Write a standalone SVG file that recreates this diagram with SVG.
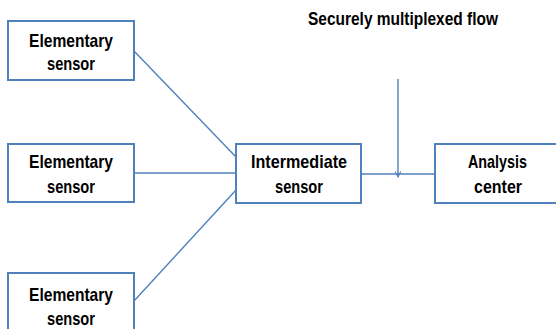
<svg xmlns="http://www.w3.org/2000/svg" width="556" height="329" viewBox="0 0 556 329">
  <defs>
    <marker id="arrow" viewBox="0 0 10 10" refX="9" refY="5" markerWidth="7" markerHeight="7" orient="auto" markerUnits="userSpaceOnUse">
      <path d="M1,1 L9,5 L1,9" fill="none" stroke="#4f81bd" stroke-width="1.5"/>
    </marker>
    <style>
      .box { fill: #ffffff; stroke: #4f81bd; stroke-width: 2; }
      .link { fill: none; stroke: #4f81bd; stroke-width: 1.4; }
      .lbl { font-family: "Liberation Sans", Arial, sans-serif; font-weight: bold; font-size: 19px; fill: #000000; text-anchor: middle; }
    </style>
  </defs>
  <rect width="556" height="329" fill="#ffffff"/>

  <g id="connectors">
    <line class="link" x1="134" y1="51" x2="236" y2="157"/>
    <line class="link" x1="134" y1="173" x2="236" y2="173"/>
    <line class="link" x1="134" y1="301" x2="236" y2="190"/>
    <line class="link" x1="361" y1="174" x2="435" y2="174"/>
    <line class="link" x1="398" y1="79" x2="398" y2="177" marker-end="url(#arrow)"/>
  </g>

  <g id="flow-label">
    <text class="lbl" x="403" y="25" font-size="18" textLength="190" lengthAdjust="spacingAndGlyphs">Securely multiplexed flow</text>
  </g>

  <g id="sensor-1">
    <rect class="box" x="8" y="21" width="126" height="59"/>
    <text class="lbl" x="71" y="47" textLength="84" lengthAdjust="spacingAndGlyphs">Elementary</text>
    <text class="lbl" x="71" y="70" textLength="48" lengthAdjust="spacingAndGlyphs">sensor</text>
  </g>

  <g id="sensor-2">
    <rect class="box" x="8" y="144" width="126" height="58"/>
    <text class="lbl" x="71" y="168" textLength="84" lengthAdjust="spacingAndGlyphs">Elementary</text>
    <text class="lbl" x="71" y="193" textLength="48" lengthAdjust="spacingAndGlyphs">sensor</text>
  </g>

  <g id="sensor-3">
    <rect class="box" x="8" y="273" width="126" height="70"/>
    <text class="lbl" x="71" y="301" textLength="84" lengthAdjust="spacingAndGlyphs">Elementary</text>
    <text class="lbl" x="71" y="325" textLength="48" lengthAdjust="spacingAndGlyphs">sensor</text>
  </g>

  <g id="intermediate">
    <rect class="box" x="236" y="144" width="125" height="59"/>
    <text class="lbl" x="299" y="168" textLength="96" lengthAdjust="spacingAndGlyphs">Intermediate</text>
    <text class="lbl" x="299" y="193" textLength="48" lengthAdjust="spacingAndGlyphs">sensor</text>
  </g>

  <g id="analysis">
    <rect class="box" x="435" y="144" width="130" height="59"/>
    <text class="lbl" x="497.5" y="168" textLength="59" lengthAdjust="spacingAndGlyphs">Analysis</text>
    <text class="lbl" x="498" y="193" textLength="48" lengthAdjust="spacingAndGlyphs">center</text>
  </g>
</svg>
